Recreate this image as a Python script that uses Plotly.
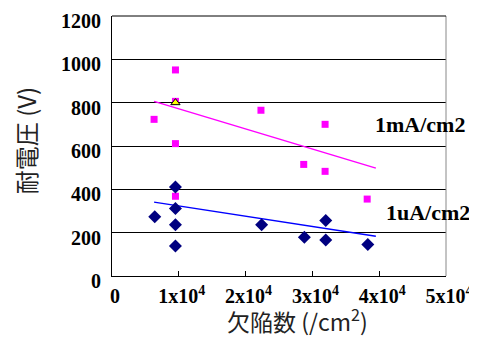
import plotly.graph_objects as go

# Data
ma_x = [0.63e4, 0.95e4, 0.95e4, 0.95e4, 0.95e4, 2.23e4, 2.87e4, 3.19e4, 3.19e4, 3.82e4]
ma_y = [723, 951, 806, 611, 368, 765, 515, 700, 483, 355]
ua_x = [0.64e4, 0.95e4, 0.95e4, 0.95e4, 0.95e4, 2.24e4, 2.88e4, 3.2e4, 3.2e4, 3.83e4]
ua_y = [274, 411, 312, 237, 138, 237, 179, 256, 166, 145]
tri_x = [0.95e4]
tri_y = [800]
ma_fit_x = [0.63e4, 3.95e4]
ma_fit_y = [806, 498]
ua_fit_x = [0.63e4, 3.95e4]
ua_fit_y = [341, 183]
x_ticks = [0, 1e4, 2e4, 3e4, 4e4, 5e4]
x_tick_labels = ["0", "1x10<sup>4</sup>", "2x10<sup>4</sup>", "3x10<sup>4</sup>",
                 "4x10<sup>4</sup>", "5x10<sup>4</sup>"]
y_ticks = [0, 200, 400, 600, 800, 1000, 1200]
y_tick_labels = ["0", "200", "400", "600", "800", "1000", "1200"]
series_labels = ["1mA/cm2", "1uA/cm2"]
series_label_y = [701, 291]
x_title = "欠陥数 (/cm<sup>2</sup>)"
y_title = "耐電圧 (V)"

serif = "Liberation Serif, Times New Roman, serif"
sans = "Noto Sans CJK JP"

fig = go.Figure()
fig.add_trace(go.Scatter(x=ma_fit_x, y=ma_fit_y, mode="lines",
                         line=dict(color="#FF00FF", width=1.5), hoverinfo="skip"))
fig.add_trace(go.Scatter(x=ua_fit_x, y=ua_fit_y, mode="lines",
                         line=dict(color="#0000FF", width=1.5), hoverinfo="skip"))
fig.add_trace(go.Scatter(x=ma_x, y=ma_y, mode="markers",
                         marker=dict(symbol="square", size=7, color="#FF00FF")))
fig.add_trace(go.Scatter(x=ua_x, y=ua_y, mode="markers",
                         marker=dict(symbol="diamond", size=10, color="#000080")))
fig.add_trace(go.Scatter(x=tri_x, y=tri_y, mode="markers",
                         marker=dict(symbol="triangle-up", size=8, color="#FFFF00",
                                     line=dict(color="black", width=1))))

fig.add_annotation(x=1.063, xref="paper", xanchor="right", y=series_label_y[0], yref="y",
                   text=series_labels[0], showarrow=False,
                   font=dict(family=serif, size=22, color="black", weight="bold"))
fig.add_annotation(x=1.078, xref="paper", xanchor="right", y=series_label_y[1], yref="y",
                   text=series_labels[1], showarrow=False,
                   font=dict(family=serif, size=22, color="black", weight="bold"))

# axis titles
fig.add_annotation(x=0.554, xref="paper", y=-0.169, yref="paper",
                   xanchor="center", yanchor="middle", text=x_title, showarrow=False,
                   font=dict(family=sans, size=23, color="#222222"))
fig.add_annotation(x=-0.26, xref="paper", y=0.519, yref="paper", textangle=-90,
                   xanchor="center", yanchor="middle", text=y_title, showarrow=False,
                   font=dict(family=sans, size=24, color="#222222"))

fig.add_shape(type="line", xref="paper", yref="paper", x0=1, x1=1, y0=0, y1=1,
              line=dict(color="#888888", width=1))
fig.add_shape(type="line", xref="paper", yref="paper", x0=0, x1=1, y0=1, y1=1,
              line=dict(color="black", width=1))

fig.update_layout(
    width=469, height=330,
    margin=dict(l=104, r=31, t=8, b=62),
    paper_bgcolor="white", plot_bgcolor="white",
    showlegend=False,
    font=dict(family=serif, size=20, color="black"),
    xaxis=dict(range=[0, 5e4], tickvals=x_ticks, ticktext=x_tick_labels,
               showgrid=False, zeroline=False, showline=True, linecolor="black",
               linewidth=1, ticks="inside", ticklen=5, tickcolor="black",
               automargin=False, ticklabeloverflow="allow",
               ticklabelstandoff=2, ticklabelshift=3,
               tickfont=dict(family=serif, size=20, color="black", weight="bold")),
    yaxis=dict(range=[0, 1200], tickvals=y_ticks, ticktext=y_tick_labels,
               showgrid=True, gridcolor="black", gridwidth=1,
               zeroline=False, showline=True, linecolor="black", linewidth=1,
               ticks="inside", ticklen=5, tickcolor="black",
               automargin=False, ticklabeloverflow="allow",
               ticklabelstandoff=6, ticklabelshift=5,
               tickfont=dict(family=serif, size=20, color="black", weight="bold")),
)

fig.write_html("out.html")
